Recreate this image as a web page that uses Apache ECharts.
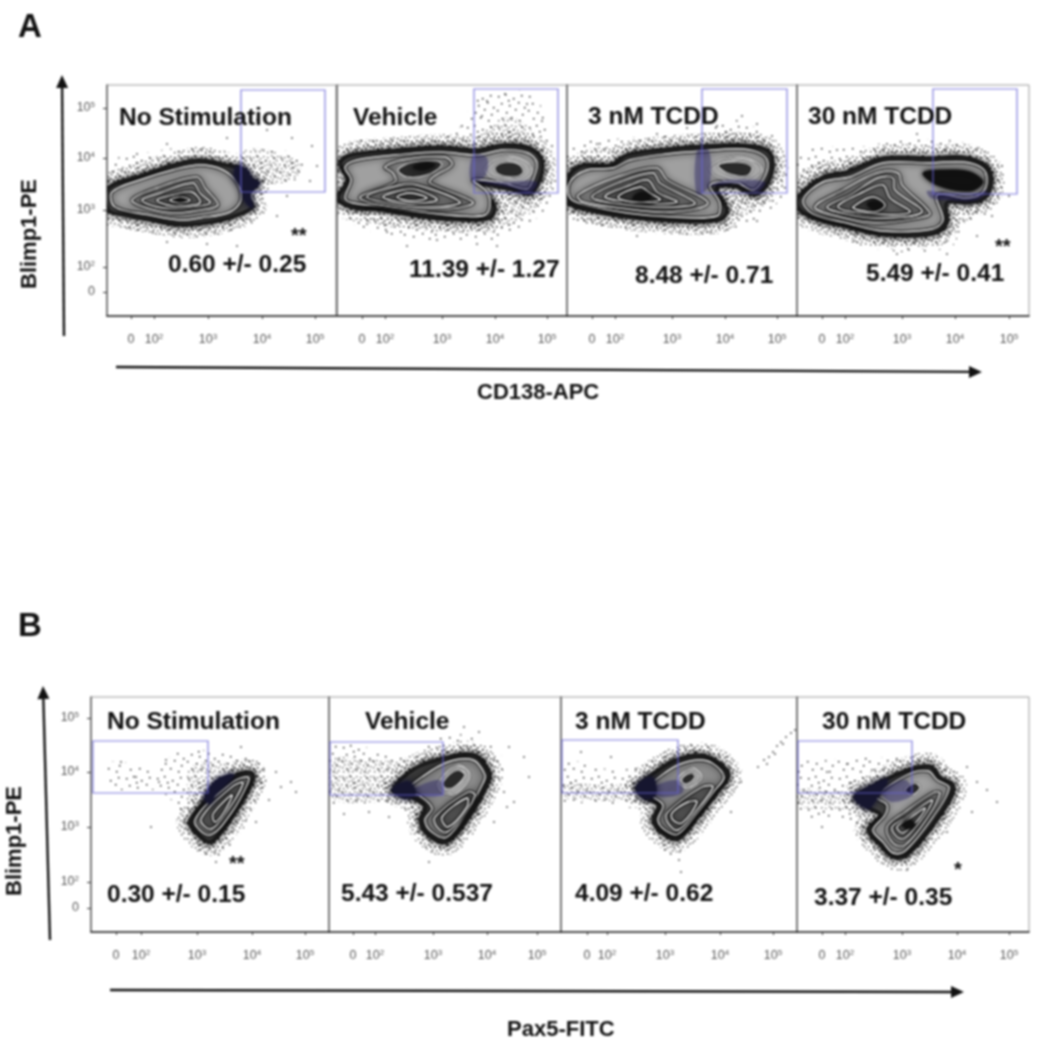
<!DOCTYPE html>
<html><head><meta charset="utf-8">
<style>html,body{margin:0;padding:0;background:#fff}#main{width:1037px;height:1050px;filter:blur(.85px)}</style>
<script src="https://cdn.jsdelivr.net/npm/echarts@6/dist/echarts.min.js"></script>
</head><body><div id="main"></div>
<script>
// All values are display channels (0 = panel corner).
const panelNames = ['No Stimulation','Vehicle','3 nM TCDD','30 nM TCDD'];
const statsA = ['0.60 +/- 0.25','11.39 +/- 1.27','8.48 +/- 0.71','5.49 +/- 0.41'];
const statsB = ['0.30 +/- 0.15','5.43 +/- 0.537','4.09 +/- 0.62','3.37 +/- 0.35'];
const tickLabels = ['0','10{s|2}','10{s|3}','10{s|4}','10{s|5}'];

const a1XTicks=[24,47,101,155,208], a2XTicks=[25,48,105,158,210], a3XTicks=[25,48,105,158,210], a4XTicks=[25,48,105,158,212];
const b1XTicks=[25,50,106,161,214], b2XTicks=[24,46,104,158,208], b3XTicks=[26,46,104,159,212], b4XTicks=[25,48,105,160,212];
const aYTicks=[24,49,106,158,208], bYTicks=[24,50,105,160,214];

const a1Gate=[134,124,218,226], a2Gate=[137,123,221,227], a3Gate=[135,123,220,227], a4Gate=[136,122,220,227];
const b1Gate=[2,139,117,191], b2Gate=[1,137,114,190], b3Gate=[1,139,117,192], b4Gate=[1,139,115,191];

const a1Rings=[
 [[1,128],[36,141],[66,151],[93,156],[120,151],[133,148],[143,138],[151,133],[141,121],[146,109],[126,99],[100,93],[73,91],[43,96],[16,101],[1,106]],
 [[5,124],[36,137],[66,146],[93,151],[116,146],[130,133],[134,116],[123,104],[93,98],[73,96],[43,101],[8,109]],
 [[25,116],[50,128],[90,139],[98,128],[111,111],[93,106],[66,103],[40,108]],
 [[35,116],[53,123],[86,133],[93,123],[103,113],[73,108],[50,109]],
 [[50,116],[66,121],[85,124],[93,113],[73,110],[60,111]],
 [[63,116],[73,119],[83,116],[73,113]]];
const a1Blobs=[[[130,149],[140,146],[145,136],[152,133],[143,123],[145,109],[138,116],[135,128],[128,139]]];
const a1Core=[[[68,116],[73,118],[79,116],[73,114]]];
const a1Tint=[];
const a1Islands=[];
const a1Cloud=[[6,153],[43,164],[93,169],[133,163],[146,166],[176,166],[196,156],[193,139],[166,129],[150,109],[146,93],[93,79],[43,83],[3,96]];
const a1Dense=[[137,165],[176,162],[193,150],[185,136],[155,133],[140,140]];
const a1Dots=[[160,186],[185,178],[150,196],[205,170],[120,178],[60,172],[30,162],[100,72],[60,74],[130,70],[170,100],[20,88],[180,120],[203,135],[210,150]];

const a2Rings=[
 [[3,153],[13,161],[60,166],[103,169],[140,166],[166,171],[193,168],[205,156],[203,136],[193,122],[176,126],[150,131],[138,131],[150,121],[158,109],[153,98],[126,96],[86,99],[43,106],[13,109],[1,118],[10,136]],
 [[8,149],[20,156],[60,161],[103,164],[140,161],[166,166],[191,163],[200,153],[196,136],[190,127],[166,133],[136,136],[150,124],[153,111],[148,101],[126,100],[86,104],[43,110],[16,113],[8,118],[14,136]],
 [[48,149],[65,156],[108,159],[115,151],[96,139],[93,133],[136,114],[120,108],[70,108],[23,118],[58,134],[56,143]],
 [[30,119],[63,131],[80,131],[123,114],[103,109],[66,111]],
 [[46,119],[66,126],[81,126],[100,116],[70,113]],
 [[60,119],[73,123],[90,118],[73,115]]];
const a2Blobs=[];
const a2Core=[[[76,149],[88,153],[98,151],[86,146]]];
const a2Tint=[[[134,136],[148,140],[150,158],[136,160]],[[140,134],[175,128],[192,122],[200,134],[165,134]]];
const a2Islands=[[[61,146],[76,154],[100,155],[105,151],[90,141],[70,139]],[[148,148],[170,160],[190,154],[195,143],[180,133],[156,138]],[[158,149],[170,154],[183,151],[186,143],[175,139],[161,142]]];
const a2Cloud=[[3,169],[60,176],[116,183],[140,216],[180,226],[206,206],[213,153],[213,113],[166,79],[133,76],[60,79],[6,103]];
const a2Dense=[[136,179],[170,199],[200,179],[210,146],[206,116],[166,89],[93,89],[26,99],[26,169],[103,176]];
const a2Dots=[[150,215],[168,222],[190,212],[145,200],[205,195],[125,190],[215,170],[218,135],[180,100],[140,72],[100,76],[70,70],[50,84],[160,70],[30,92]];

const a3Rings=[
 [[1,139],[16,151],[43,151],[60,161],[100,167],[136,170],[176,171],[200,166],[206,153],[201,133],[188,121],[170,129],[150,128],[160,106],[153,96],[106,95],[60,99],[20,106],[1,114]],
 [[3,134],[20,146],[46,148],[63,156],[100,162],[136,165],[176,167],[196,161],[201,151],[196,136],[186,126],[170,133],[143,131],[153,113],[150,100],[106,99],[60,103],[20,111],[3,118]],
 [[11,121],[50,139],[90,148],[100,136],[141,113],[103,104],[53,108],[16,114]],
 [[25,119],[53,134],[86,143],[93,133],[128,113],[100,109],[53,112]],
 [[38,119],[63,131],[81,136],[90,124],[110,114],[76,113]],
 [[51,119],[73,129],[83,123],[93,116],[66,114]]];
const a3Blobs=[];
const a3Core=[[[68,121],[76,124],[84,119],[76,115],[66,117]]];
const a3Tint=[[[130,122],[142,130],[142,165],[130,165]],[[143,130],[172,132],[190,124],[198,134],[160,136]]];
const a3Islands=[[[143,149],[166,159],[190,154],[195,144],[176,134],[150,139]],[[151,151],[170,154],[185,149],[180,140],[160,143]]];
const a3Cloud=[[1,166],[60,178],[133,183],[166,196],[196,183],[220,153],[216,119],[160,86],[76,86],[3,103]];
const a3Dense=[[10,160],[60,170],[133,176],[166,183],[204,172],[213,140],[200,115],[160,95],[60,92],[5,100]];
const a3Dots=[[150,190],[175,200],[190,192],[205,180],[120,188],[90,182],[30,172],[215,130],[175,100],[120,82],[70,80],[190,95],[140,84]];

const a4Rings=[
 [[1,119],[26,139],[50,144],[86,158],[133,158],[166,159],[188,151],[195,136],[188,118],[170,113],[150,113],[150,93],[136,82],[86,81],[50,89],[16,98],[1,108]],
 [[6,116],[26,134],[53,139],[86,153],[133,153],[166,154],[185,148],[190,136],[185,123],[170,118],[140,121],[146,96],[135,87],[86,85],[50,93],[16,102]],
 [[18,109],[46,126],[80,143],[101,143],[105,131],[133,103],[121,98],[80,93],[43,99]],
 [[30,109],[53,121],[81,138],[96,138],[98,126],[125,104],[80,98],[46,103]],
 [[41,109],[66,124],[86,131],[93,118],[113,104],[76,102]],
 [[56,109],[76,119],[88,111],[78,104],[61,106]]];
const a4Blobs=[];
const a4Core=[[[126,143],[150,146],[173,144],[186,134],[173,125],[140,131]],[[70,112],[78,115],[86,110],[78,106]]];
const a4Tint=[[[130,125],[150,122],[172,120],[190,126],[180,116],[150,116],[134,118]]];
const a4Islands=[];
const a4Cloud=[[3,163],[60,169],[120,176],[180,169],[206,139],[200,109],[166,89],[153,69],[86,66],[26,86],[1,103]];
const a4Dense=[[5,145],[60,158],[120,167],[185,160],[198,136],[190,112],[160,88],[140,75],[86,72],[30,90],[3,108]];
const a4Dots=[[120,182],[90,172],[40,166],[15,150],[205,150],[212,120],[180,80],[150,62],[100,62],[60,74],[195,100]];

const b1Rings=[
 [[99,112],[142,155],[159,160],[163,154],[146,122],[121,90],[109,95]],
 [[104,112],[142,150],[157,155],[157,149],[141,120],[119,97]],
 [[110,113],[142,146],[152,149],[137,122],[120,103]],
 [[122,118],[141,137],[133,120],[124,110]]];
const b1Blobs=[[[114,135],[126,152],[142,157],[124,138],[119,129]]];
const b1Core=[];
const b1Tint=[];
const b1Islands=[];
const b1Cloud=[[20,170],[60,165],[90,180],[130,180],[175,165],[165,130],[150,100],[125,75],[105,80],[90,115],[70,140],[20,145]];
const b1Dense=[[96,135],[100,165],[135,170],[165,160],[155,125],[135,95],[122,82],[108,88],[95,115]];
const b1Dots=[[185,160],[200,150],[178,132],[190,145],[45,155],[30,170],[75,172],[68,150],[165,110],[60,105],[150,185],[125,70],[205,140],[170,150]];

const b2Rings=[
 [[64,142],[86,164],[119,175],[146,177],[161,159],[159,149],[143,119],[118,90],[99,97],[91,112],[96,125],[81,135]],
 [[76,140],[93,155],[119,170],[144,172],[156,157],[154,149],[139,122],[118,95],[103,100],[96,112],[103,124],[89,137]],
 [[106,115],[139,140],[146,137],[136,119],[118,100],[108,105]],
 [[113,115],[138,134],[138,125],[119,105]]];
const b2Blobs=[[[64,142],[79,150],[86,139],[76,134]]];
const b2Core=[];
const b2Tint=[[[80,140],[110,152],[114,138],[90,136]]];
const b2Islands=[[[109,149],[128,167],[141,157],[128,139],[113,140]],[[114,150],[128,162],[136,157],[124,144],[116,144]]];
const b2Cloud=[[113,195],[146,195],[173,175],[166,139],[146,112],[123,82],[93,82],[79,119],[46,129],[3,129],[3,189],[79,175]];
const b2Dense=[[3,172],[40,172],[90,172],[125,185],[150,185],[168,165],[155,125],[125,88],[100,85],[88,112],[70,128],[3,134]];
const b2Dots=[[180,185],[195,175],[175,140],[178,125],[185,130],[150,200],[135,205],[165,110],[140,100],[60,115],[40,120],[15,118],[200,155],[100,70]];

const b3Rings=[
 [[76,145],[94,160],[114,172],[137,177],[154,172],[168,157],[157,140],[137,115],[117,93],[101,99],[92,112],[97,127],[82,135]],
 [[86,144],[101,157],[117,167],[137,172],[151,169],[163,155],[154,142],[136,119],[117,98],[104,102],[97,112],[102,127],[89,137]],
 [[106,119],[141,145],[152,145],[134,120],[117,102],[107,109]],
 [[111,119],[127,130],[136,130],[121,109],[112,112]]];
const b3Blobs=[[[76,145],[91,154],[94,137],[82,135]]];
const b3Core=[];
const b3Tint=[[[92,144],[116,152],[122,140],[100,135]]];
const b3Islands=[[[116,152],[131,164],[141,155],[127,144]],[[122,155],[131,159],[134,155],[126,148],[121,150]]];
const b3Cloud=[[124,187],[151,185],[176,162],[164,135],[141,109],[114,75],[94,92],[82,119],[27,129],[1,132],[1,170],[61,162],[104,179]];
const b3Dense=[[3,148],[60,148],[100,172],[130,183],[160,175],[172,155],[150,122],[118,88],[96,100],[85,125],[30,132],[3,135]];
const b3Dots=[[197,165],[203,172],[208,175],[212,180],[216,186],[220,190],[225,195],[230,199],[234,202],[206,168],[214,178],[222,188],[180,150],[120,60],[118,72],[170,120],[50,175],[20,180]];

const b4Rings=[
 [[58,135],[73,145],[110,162],[133,166],[143,155],[157,145],[140,112],[110,77],[96,75],[83,87],[71,102],[83,117],[71,124]],
 [[80,135],[110,157],[131,161],[140,152],[152,144],[136,115],[108,81],[96,79],[86,90],[76,102],[88,117],[90,127]],
 [[90,105],[108,120],[136,139],[143,139],[131,115],[108,87],[96,89]],
 [[95,105],[110,115],[135,132],[128,117],[108,94],[100,95]],
 [[100,105],[113,114],[128,124],[121,112],[106,99]]];
const b4Blobs=[[[58,135],[73,145],[90,152],[80,135],[71,124]]];
const b4Core=[[[105,108],[113,112],[118,107],[110,103]]];
const b4Tint=[[[85,140],[108,152],[116,138],[95,130]]];
const b4Islands=[[[108,142],[118,149],[123,144],[115,137]]];
const b4Cloud=[[36,172],[113,175],[136,175],[163,149],[146,109],[113,69],[86,72],[60,95],[50,112],[3,119],[1,165]];
const b4Dense=[[3,142],[55,142],[105,168],[135,172],[160,148],[144,112],[112,73],[90,78],[70,100],[60,120],[3,126]];
const b4Dots=[[50,168],[30,160],[75,162],[180,150],[190,142],[175,120],[65,105],[25,105],[150,100],[110,62],[200,130],[170,165]];

// fixed stipple tiles used to fill the event clouds
const sparseTile=[[2,3],[9,1],[17,5],[25,2],[5,10],[13,12],[22,9],[28,14],[1,17],[10,19],[19,16],[26,21],[6,25],[15,24],[23,27],[12,7]];
const denseTile=[[1,1],[5,2],[8,0],[12,3],[15,1],[19,2],[23,0],[26,3],[29,1],[3,5],[7,6],[10,5],[14,7],[17,5],[21,6],[25,7],[28,5],[0,9],[5,9],[9,10],[12,8],[16,10],[19,9],[23,11],[27,9],[2,13],[6,12],[11,13],[14,12],[18,14],[21,13],[25,14],[29,12],[0,16],[4,16],[8,17],[13,16],[16,17],[20,16],[24,18],[28,16],[3,20],[7,20],[10,19],[15,21],[18,19],[22,21],[26,20],[29,22],[1,23],[5,24],[9,23],[13,25],[17,23],[20,25],[24,24],[28,26],[2,27],[7,27],[11,27],[15,26],[19,28],[23,27],[26,28]];
function tile(list){const c=document.createElement('canvas');c.width=c.height=31;const g=c.getContext('2d');g.fillStyle='#000';list.forEach(p=>g.fillRect(p[0],p[1],1.4,1.4));return c;}
const sparseFill={image:tile(sparseTile),repeat:'repeat'}, denseFill={image:tile(denseTile),repeat:'repeat'};

const ringFills=['#444444','#a0a0a0','#8a8a8a','#767676','#626262','#3e3e3e'];
const darkFills=['#3a3a3a','#8a8a8a','#5c5c5c','#565656','#505050','#444444'];
const panels=[
 {left:107,w:229,top:85,h:231,xt:a1XTicks,yt:aYTicks,g:a1Gate,r:a1Rings,b:a1Blobs,k:a1Core,t:a1Tint,i:a1Islands,c:a1Cloud,d:a1Dense,p:a1Dots,lab:true,f:ringFills},
 {left:337,w:230,top:85,h:231,xt:a2XTicks,yt:aYTicks,g:a2Gate,r:a2Rings,b:a2Blobs,k:a2Core,t:a2Tint,i:a2Islands,c:a2Cloud,d:a2Dense,p:a2Dots,f:ringFills},
 {left:567,w:230,top:85,h:231,xt:a3XTicks,yt:aYTicks,g:a3Gate,r:a3Rings,b:a3Blobs,k:a3Core,t:a3Tint,i:a3Islands,c:a3Cloud,d:a3Dense,p:a3Dots,f:ringFills},
 {left:797,w:232,top:85,h:231,xt:a4XTicks,yt:aYTicks,g:a4Gate,r:a4Rings,b:a4Blobs,k:a4Core,t:a4Tint,i:a4Islands,c:a4Cloud,d:a4Dense,p:a4Dots,f:ringFills},
 {left:91,w:238,top:697,h:235,xt:b1XTicks,yt:bYTicks,g:b1Gate,r:b1Rings,b:b1Blobs,k:b1Core,t:b1Tint,i:b1Islands,c:b1Cloud,d:b1Dense,p:b1Dots,lab:true,f:darkFills},
 {left:329,w:232,top:697,h:235,xt:b2XTicks,yt:bYTicks,g:b2Gate,r:b2Rings,b:b2Blobs,k:b2Core,t:b2Tint,i:b2Islands,c:b2Cloud,d:b2Dense,p:b2Dots,f:darkFills},
 {left:561,w:236,top:697,h:235,xt:b3XTicks,yt:bYTicks,g:b3Gate,r:b3Rings,b:b3Blobs,k:b3Core,t:b3Tint,i:b3Islands,c:b3Cloud,d:b3Dense,p:b3Dots,f:darkFills},
 {left:797,w:232,top:697,h:235,xt:b4XTicks,yt:bYTicks,g:b4Gate,r:b4Rings,b:b4Blobs,k:b4Core,t:b4Tint,i:b4Islands,c:b4Cloud,d:b4Dense,p:b4Dots,f:ringFills}];

const rich={s:{fontSize:8,color:'#555',padding:[0,0,6,0]}};
function axis(kind,i,ticks,size,show){
  return {type:'value',gridIndex:i,min:0,max:size,splitLine:{show:false},
    axisLine:{show:true,onZero:false,lineStyle:{color:kind==='x'?'#222':'#666',width:1.6}},
    axisTick:{show:show,length:kind==='x'?3:4,customValues:ticks,lineStyle:{color:'#333'}},
    axisLabel:{show:show,customValues:ticks,margin:kind==='x'?17:12,color:'#555',fontSize:12.5,fontFamily:'Liberation Sans',rich,
      formatter:v=>tickLabels[ticks.indexOf(v)]}};
}
function poly(pts,style,smooth){return {type:'polygon',shape:{points:pts,smooth:smooth===undefined?0.35:smooth},style};}
function layer(i,items,draw){
  return {type:'custom',xAxisIndex:i,yAxisIndex:i,clip:true,silent:true,animation:false,encode:{x:0,y:0},
    data:items.map((_,k)=>[k]),
    renderItem:(p,api)=>{const k=api.value(0);return draw(items[k].map(q=>api.coord(q)),k);}};
}
const series=[],grid=[],xAxis=[],yAxis=[];
panels.forEach((P,i)=>{
  grid.push({left:P.left,top:P.top,width:P.w,height:P.h,show:true,borderColor:'#999',borderWidth:1,backgroundColor:'#fff'});
  xAxis.push(axis('x',i,P.xt,P.w,true));
  yAxis.push(axis('y',i,P.yt,P.h,!!P.lab));
  series.push(layer(i,[P.c],pts=>poly(pts,{fill:sparseFill,stroke:null,opacity:1},0.4)));
  series.push(layer(i,[P.d],pts=>poly(pts,{fill:denseFill,stroke:null,opacity:.65},0.4)));
  series.push(layer(i,[P.r[0]],pts=>({type:'group',children:[
    poly(pts,{fill:null,stroke:denseFill,lineWidth:26,opacity:.8}),
    poly(pts,{fill:null,stroke:denseFill,lineWidth:16,opacity:1}),
    poly(pts,{fill:null,stroke:'rgba(0,0,0,.25)',lineWidth:11})]})));
  series.push({type:'scatter',xAxisIndex:i,yAxisIndex:i,symbolSize:2,silent:true,animation:false,itemStyle:{color:'#333'},data:P.p});
  series.push(layer(i,P.r,(pts,k)=>({type:'group',children:[
    poly(pts,{fill:P.f[Math.min(k,5)],stroke:'#050505',lineWidth:k===0?3.6:3.4}),
    poly(pts,{fill:null,stroke:'#111',lineWidth:2,shadowBlur:k===0?0:7,shadowColor:'#000'}),
    poly(pts,{fill:null,stroke:k===0?'#555':'#fff',lineWidth:k===0?.6:1.4})]})));
  series.push(layer(i,P.i,(pts,k)=>({type:'group',children:[
    poly(pts,{fill:(P.i.length>1&&k%2===(P.i.length%2))?'#a8a8a8':'#2a2a2a',stroke:'#111',lineWidth:2}),
    poly(pts,{fill:null,stroke:'#fff',lineWidth:1.2})]})));
  series.push(layer(i,P.t,pts=>poly(pts,{fill:'rgba(25,20,90,.38)',stroke:null,shadowBlur:7,shadowColor:'rgba(25,20,90,.4)'})));
  series.push(layer(i,P.b,pts=>poly(pts,{fill:'#171730',stroke:'#171730',lineWidth:2,shadowBlur:6,shadowColor:'#171730'})));
  series.push(layer(i,P.k,pts=>poly(pts,{fill:'#111',stroke:'#111',lineWidth:1,shadowBlur:5,shadowColor:'#111'})));
  series.push(layer(i,[[[P.g[0],P.g[1]],[P.g[2],P.g[1]],[P.g[2],P.g[3]],[P.g[0],P.g[3]]]],pts=>
    poly(pts,{fill:null,stroke:'rgba(105,100,215,.85)',lineWidth:1.2},0)));
});
const bold='Liberation Sans';
const titleAt=(text,left,cy,size)=>({text,left,top:cy-Math.round(size*0.45),padding:0,textStyle:{fontFamily:bold,fontWeight:'bold',fontSize:size,color:'#111'}});
const T=24.5;
const title=[
 titleAt('A',18,26,33),titleAt('B',18,625,33),
 titleAt(panelNames[0],119,117,T),titleAt(panelNames[1],353,117,T),titleAt(panelNames[2],588,116,T),titleAt(panelNames[3],808,116,T),
 titleAt(statsA[0],168,264,T),titleAt(statsA[1],409,269,T),titleAt(statsA[2],635,275,T),titleAt(statsA[3],866,273,T),
 titleAt(panelNames[0],107,721,T),titleAt(panelNames[1],365,721,T),titleAt(panelNames[2],575,721,T),titleAt(panelNames[3],822,721,T),
 titleAt(statsB[0],107,894,T),titleAt(statsB[1],341,893,T),titleAt(statsB[2],575,893,T),titleAt(statsB[3],814,897,T),
 titleAt('**',291,235,20),titleAt('**',995,246,20),titleAt('**',229,863,20),titleAt('*',954,869,20),
 titleAt('CD138-APC',477,392,22),titleAt('Pax5-FITC',507,1029,22)];
function arrow(x1,y1,x2,y2){
  const a=Math.atan2(y2-y1,x2-x1),L=13,W=6,bx=x2-L*Math.cos(a),by=y2-L*Math.sin(a),nx=-Math.sin(a)*W,ny=Math.cos(a)*W;
  return [{type:'line',shape:{x1,y1,x2:bx,y2:by},style:{stroke:'#111',lineWidth:2.4}},
          {type:'polygon',shape:{points:[[x2,y2],[bx+nx,by+ny],[bx-nx,by-ny]]},style:{fill:'#111'}}];
}
const graphic=[...arrow(64,336,62,75),...arrow(116,367,982,372),...arrow(50,940,43,686),...arrow(110,990,964,992),
 {type:'text',x:30,y:234,rotation:Math.PI/2,style:{text:'Blimp1-PE',align:'center',verticalAlign:'middle',font:'bold 22px "Liberation Sans"',fill:'#111'}},
 {type:'text',x:15,y:841,rotation:Math.PI/2,style:{text:'Blimp1-PE',align:'center',verticalAlign:'middle',font:'bold 22px "Liberation Sans"',fill:'#111'}}];
const chart=echarts.init(document.getElementById('main'),null,{renderer:'canvas'});
chart.setOption({animation:false,title,graphic,grid,xAxis,yAxis,series});
</script></body></html>
